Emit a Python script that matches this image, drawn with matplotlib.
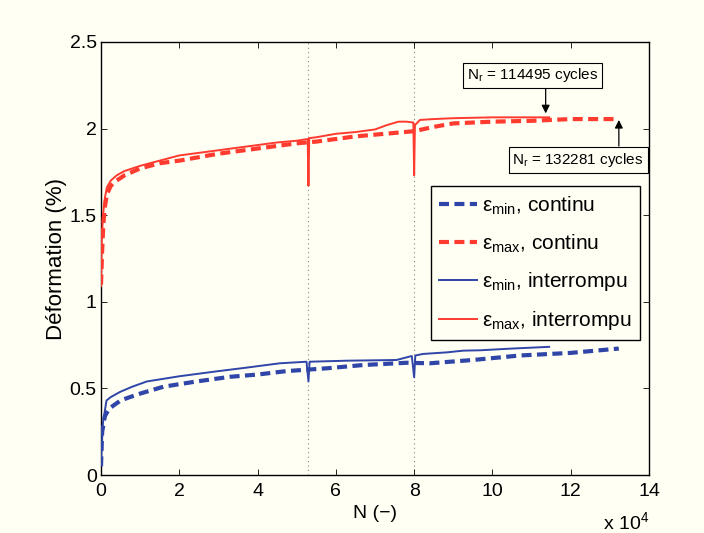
import matplotlib
matplotlib.use("Agg")
import matplotlib.pyplot as plt

plt.rcParams['font.family'] = ['Liberation Sans', 'DejaVu Sans']
plt.rcParams['mathtext.fontset'] = 'custom'
plt.rcParams['mathtext.rm'] = 'Liberation Sans'
plt.rcParams['mathtext.it'] = 'Liberation Sans:italic'
plt.rcParams['mathtext.bf'] = 'Liberation Sans:bold'

# ---- data (N in units of 1e4 cycles, strain in %) ----
n_max_cont = [0, 0.03, 0.06, 0.1, 0.15, 0.25, 0.4, 0.6, 1.0, 1.5, 2.0, 2.5, 3.0, 3.5, 4.0,
              4.5, 5.0, 5.5, 6.0, 6.5, 7.0, 7.5, 8.0, 8.5, 9.0, 10.0, 11.0, 12.0, 13.2281]
e_max_cont = [1.10, 1.30, 1.45, 1.55, 1.62, 1.67, 1.70, 1.73, 1.77, 1.80, 1.815, 1.835, 1.855, 1.87, 1.885,
              1.90, 1.915, 1.925, 1.94, 1.955, 1.965, 1.975, 1.985, 2.01, 2.03, 2.04, 2.045, 2.055, 2.055]

n_max_int = [0, 0.02, 0.05, 0.1, 0.15, 0.25, 0.4, 0.6, 0.8, 1.0, 1.5, 2.0, 2.5, 3.0, 3.5, 4.0, 4.5,
             5.0, 5.28, 5.3, 5.32, 5.5, 6.0, 6.5, 7.0, 7.3, 7.6, 7.8, 7.98, 8.0, 8.02, 8.15, 8.5,
             9.0, 10.0, 11.0, 11.4495]
e_max_int = [1.09, 1.35, 1.50, 1.60, 1.66, 1.70, 1.73, 1.755, 1.77, 1.785, 1.815, 1.845, 1.86, 1.875, 1.89,
             1.905, 1.92, 1.93, 1.94, 1.67, 1.945, 1.95, 1.97, 1.98, 1.995, 2.02, 2.04, 2.04, 2.035,
             1.73, 2.02, 2.05, 2.055, 2.06, 2.065, 2.065, 2.065]

n_min_cont = [0, 0.03, 0.1, 0.2, 0.31, 0.5, 0.74, 1.0, 1.6, 2.44, 3.3, 4.0, 4.74, 5.77, 6.7, 7.81,
              8.4, 9.5, 10.7, 12.0, 13.2281]
e_min_cont = [0.05, 0.25, 0.34, 0.38, 0.40, 0.43, 0.45, 0.47, 0.51, 0.54, 0.567, 0.58, 0.60, 0.616,
              0.635, 0.648, 0.645, 0.664, 0.69, 0.705, 0.73]

n_min_int = [0, 0.05, 0.14, 0.25, 0.49, 0.8, 1.17, 2.0, 2.87, 3.72, 4.57, 5.25, 5.3, 5.33, 6.28,
             7.55, 7.94, 8.0, 8.03, 8.23, 8.83, 9.26, 9.68, 10.5, 11.4495]
e_min_int = [0.07, 0.30, 0.43, 0.45, 0.48, 0.51, 0.54, 0.57, 0.596, 0.62, 0.645, 0.654, 0.54, 0.654, 0.66,
             0.664, 0.687, 0.564, 0.69, 0.699, 0.708, 0.718, 0.72, 0.73, 0.74]

vlines_n = [5.3, 8.0]
x_ticks = [0, 2, 4, 6, 8, 10, 12, 14]
y_ticks = [0, 0.5, 1, 1.5, 2, 2.5]
y_ticklabels = ['0', '0.5', '1', '1.5', '2', '2.5']

labels = [r'$\mathrm{ε}_{\mathrm{min}}$, continu', r'$\mathrm{ε}_{\mathrm{max}}$, continu',
          r'$\mathrm{ε}_{\mathrm{min}}$, interrompu', r'$\mathrm{ε}_{\mathrm{max}}$, interrompu']
note1 = r'$\mathrm{N}_{\mathrm{r}}$ = 114495 cycles'
note2 = r'$\mathrm{N}_{\mathrm{r}}$ = 132281 cycles'

BG = '#FFFFF4'
BLUE = '#2F45A8'
RED = '#FF3A2E'
FS = 14

fig = plt.figure(figsize=(7.04, 5.33), dpi=100, facecolor=BG)
ax = fig.add_axes([101/704, 58/533, 548/704, 433/533], facecolor=BG)

for v in vlines_n:
    ax.axvline(v, color='#888888', lw=0.8, ls=(0, (1, 3)), zorder=1)

dash = (0, (2.4, 1.3))
l1, = ax.plot(n_min_cont, e_min_cont, color=BLUE, lw=3, ls=dash, zorder=3)
l2, = ax.plot(n_max_cont, e_max_cont, color=RED, lw=3, ls=dash, zorder=3)
l3, = ax.plot(n_min_int, e_min_int, color=BLUE, lw=1.4, zorder=4)
l4, = ax.plot(n_max_int, e_max_int, color=RED, lw=1.4, zorder=4)

ax.set_xlim(0, 14)
ax.set_ylim(0, 2.5)
ax.set_xticks(x_ticks)
ax.set_xticklabels([str(t) for t in x_ticks])
ax.set_yticks(y_ticks)
ax.set_yticklabels(y_ticklabels)
ax.tick_params(direction='in', top=True, right=True, length=4, width=0.6,
               labelsize=FS)
ax.tick_params(axis='y', pad=3)
ax.tick_params(axis='x', pad=6)
for s in ax.spines.values():
    s.set_linewidth(1.0)

ax.set_xlabel('N (\u2212)', fontsize=FS, labelpad=3)
ax.set_ylabel('Déformation (%)', fontsize=16, labelpad=2)
ax.text(1.0, -0.11, r'x 10$^{4}$', transform=ax.transAxes, ha='right', va='center', fontsize=FS)

leg = ax.legend([l1, l2, l3, l4], labels, loc='upper left', bbox_to_anchor=(0.602, 0.667),
                borderaxespad=0, fontsize=15, handlelength=1.8, handletextpad=0.25,
                labelspacing=0.75, fancybox=False, framealpha=1, facecolor=BG,
                edgecolor='black', borderpad=0.4)
leg.get_frame().set_linewidth(1.0)

# annotations
box = dict(boxstyle='square,pad=0.25', facecolor=BG, edgecolor='black', lw=0.8)
ax.text(11.02, 2.307, note1, ha='center', va='center', fontsize=11, bbox=box, zorder=6)
ax.annotate('', xy=(11.36, 2.088), xytext=(11.36, 2.229),
            arrowprops=dict(arrowstyle='-|>', color='black', lw=0.9, mutation_scale=12,
                            shrinkA=0, shrinkB=0), zorder=6)
t2 = ax.text(12.19, 1.819, note2, ha='center', va='center', fontsize=11, bbox=box,
             zorder=6, clip_on=True)
ax.annotate('', xy=(13.23, 2.05), xytext=(13.23, 1.90),
            arrowprops=dict(arrowstyle='-|>', color='black', lw=0.9, mutation_scale=12,
                            shrinkA=0, shrinkB=0), zorder=6)

fig.savefig('out.png', dpi=100, facecolor=BG)
